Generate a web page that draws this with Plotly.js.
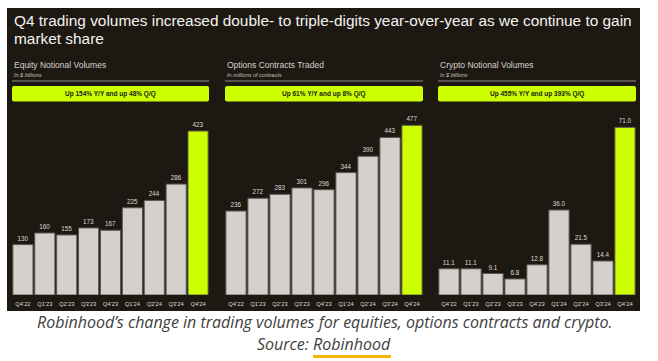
<!DOCTYPE html>
<html>
<head>
<meta charset="utf-8">
<script src="https://cdn.plot.ly/plotly-3.0.1.min.js"></script>
<style>html,body{margin:0;padding:0;background:#fff;}#chart{width:658px;height:361px;}</style>
</head>
<body>
<div id="chart"></div>
<script>
const categories = ["Q4'22","Q1'23","Q2'23","Q3'23","Q4'23","Q1'24","Q2'24","Q3'24","Q4'24"];
const equityVolumes = [130,160,155,173,167,225,244,286,423];
const optionsContracts = [236,272,283,301,296,344,390,443,477];
const cryptoVolumes = [11.1,11.1,9.1,6.8,12.8,36.0,21.5,14.4,71.0];

const mainTitleLines = ["Q4 trading volumes increased double- to triple-digits year-over-year as we continue to gain","market share"];
const panelTitles = ["Equity Notional Volumes","Options Contracts Traded","Crypto Notional Volumes"];
const panelUnits = ["In $ billions","In millions of contracts","In $ billions"];
const panelBadges = ["Up 154% Y/Y and up 48% Q/Q","Up 61% Y/Y and up 8% Q/Q","Up 455% Y/Y and up 393% Q/Q"];
const captionLine = "Robinhood\u2019s change in trading volumes for equities, options contracts and crypto.";
const sourceLine = "Source: Robinhood";

const W = 658, H = 361;
const px = x => x / W;
const py = y => 1 - y / H;

const FONT = 'Liberation Sans, Arial, Helvetica, sans-serif';
const BG = '#1d1912';
const GREY_BAR = '#d4d0cb';
const GREEN = '#ccff00';
const TXT = '#dcd8d2';

const panelsX = [[12,209],[225,423],[438,636]];
const yDom = [py(295), py(120)];
const yMax = [451.4, 491.9, 74.1];
const series = [equityVolumes, optionsContracts, cryptoVolumes];
const fmt = ['%{y}','%{y}','%{y:.1f}'];

const traces = series.map((vals, i) => ({
  type: 'bar',
  x: categories,
  y: vals,
  xaxis: i === 0 ? 'x' : 'x' + (i + 1),
  yaxis: i === 0 ? 'y' : 'y' + (i + 1),
  marker: {
    color: vals.map((v, k) => k === vals.length - 1 ? GREEN : GREY_BAR),
    line: {color: '#5a554e', width: 1}
  },
  texttemplate: fmt[i],
  textposition: 'outside',
  textfont: {family: FONT, size: 6.3, color: TXT},
  cliponaxis: false,
  hoverinfo: 'skip',
  showlegend: false
}));

const layout = {
  width: W, height: H,
  margin: {l: 0, r: 0, t: 0, b: 0},
  paper_bgcolor: '#ffffff',
  plot_bgcolor: 'rgba(0,0,0,0)',
  bargap: 0.08,
  showlegend: false,
  font: {family: FONT},
  shapes: [],
  annotations: []
};

series.forEach((vals, i) => {
  const sx = i === 0 ? '' : String(i + 1);
  layout['xaxis' + sx] = {
    domain: [px(panelsX[i][0]), px(panelsX[i][1])],
    anchor: 'y' + sx,
    showgrid: false, zeroline: false, showline: false,
    ticks: '', ticklen: 0,
    ticklabelstandoff: 4,
    tickfont: {family: FONT, size: 5.8, color: TXT},
    fixedrange: true
  };
  layout['yaxis' + sx] = {
    domain: yDom,
    anchor: 'x' + sx,
    range: [0, yMax[i]],
    visible: false,
    fixedrange: true
  };
});

// dark panel
layout.shapes.push({type: 'rect', xref: 'paper', yref: 'paper', layer: 'below',
  x0: px(7), x1: px(640), y0: py(311), y1: py(8), fillcolor: BG, line: {width: 0}});

// main title lines
layout.annotations.push({xref: 'paper', yref: 'paper', x: px(12), y: py(20), xanchor: 'left', yanchor: 'middle',
  text: mainTitleLines[0], showarrow: false, font: {family: FONT, size: 15.4, color: '#f4f2ee'}});
layout.annotations.push({xref: 'paper', yref: 'paper', x: px(12), y: py(38), xanchor: 'left', yanchor: 'middle',
  text: mainTitleLines[1], showarrow: false, font: {family: FONT, size: 15.4, color: '#f4f2ee'}});

function roundRect(x0, y0, x1, y1, r) {
  const X = v => px(v), Y = v => py(v);
  return `M ${X(x0 + r)} ${Y(y0)} L ${X(x1 - r)} ${Y(y0)} Q ${X(x1)} ${Y(y0)} ${X(x1)} ${Y(y0 + r)} ` +
         `L ${X(x1)} ${Y(y1 - r)} Q ${X(x1)} ${Y(y1)} ${X(x1 - r)} ${Y(y1)} ` +
         `L ${X(x0 + r)} ${Y(y1)} Q ${X(x0)} ${Y(y1)} ${X(x0)} ${Y(y1 - r)} ` +
         `L ${X(x0)} ${Y(y0 + r)} Q ${X(x0)} ${Y(y0)} ${X(x0 + r)} ${Y(y0)} Z`;
}

panelsX.forEach((p, i) => {
  const x0 = p[0], x1 = p[1];
  layout.annotations.push({xref: 'paper', yref: 'paper', x: px(x0), y: py(65.5), xanchor: 'left', yanchor: 'middle',
    text: panelTitles[i], showarrow: false, font: {family: FONT, size: 8.5, color: '#d6d2cc'}});
  layout.annotations.push({xref: 'paper', yref: 'paper', x: px(x0), y: py(74.5), xanchor: 'left', yanchor: 'middle',
    text: '<i>' + panelUnits[i] + '</i>', showarrow: false, font: {family: FONT, size: 5.5, color: '#c8c4be'}});
  layout.shapes.push({type: 'line', xref: 'paper', yref: 'paper', x0: px(x0), x1: px(x1), y0: py(81), y1: py(81),
    line: {color: '#6e6962', width: 1.5}});
  layout.shapes.push({type: 'path', xref: 'paper', yref: 'paper', path: roundRect(x0, 86, x1, 101.5, 2),
    fillcolor: GREEN, line: {width: 0}});
  layout.annotations.push({xref: 'paper', yref: 'paper', x: px((x0 + x1) / 2), y: py(93.8), xanchor: 'center', yanchor: 'middle',
    text: '<b>' + panelBadges[i] + '</b>', showarrow: false, font: {family: FONT, size: 6.5, color: '#1b1b16'}});
});

// caption
layout.annotations.push({xref: 'paper', yref: 'paper', x: px(325), y: py(321.5), xanchor: 'center', yanchor: 'middle',
  text: '<i>' + captionLine + '</i>', showarrow: false, font: {family: 'Open Sans, sans-serif', size: 16, color: '#404040'}});
layout.annotations.push({xref: 'paper', yref: 'paper', x: px(324), y: py(343.5), xanchor: 'center', yanchor: 'middle',
  text: '<i>' + sourceLine + '</i>', showarrow: false, font: {family: 'Open Sans, sans-serif', size: 16, color: '#404040'}});
layout.shapes.push({type: 'line', xref: 'paper', yref: 'paper', x0: px(313), x1: px(391), y0: py(356.5), y1: py(356.5),
  line: {color: '#f5b400', width: 3}});

Plotly.newPlot('chart', traces, layout, {staticPlot: true, displayModeBar: false});
</script>
</body>
</html>
